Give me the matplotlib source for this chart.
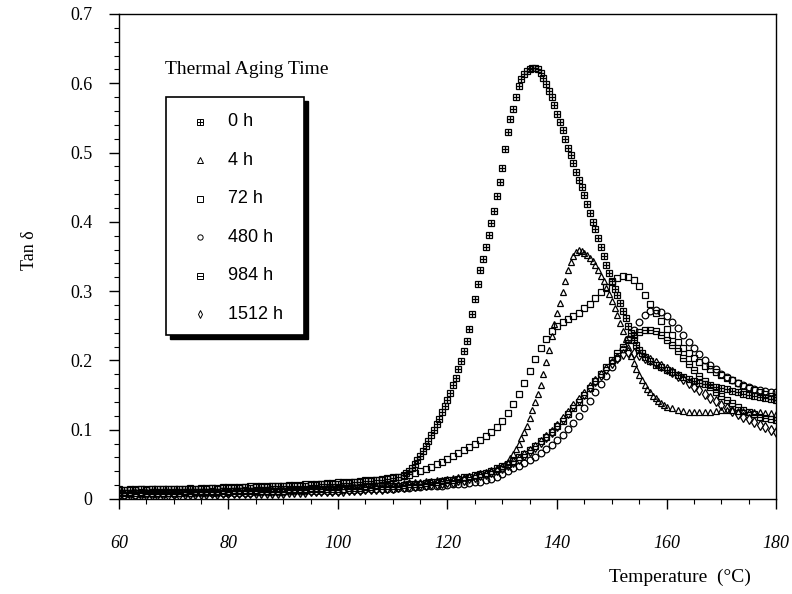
import numpy as np
import matplotlib
matplotlib.use('Agg')
import matplotlib.pyplot as plt
from matplotlib.patches import Rectangle

### Data (tan delta vs temperature)

# 0 h : finer 0.5 C steps on the steep peak
t_0h = np.r_[np.arange(60, 112), np.arange(112, 156.5, 0.5), np.arange(157, 181)]
tan_0h = [
    0.013, 0.013, 0.013, 0.013, 0.014, 0.013, 0.014, 0.014, 0.014, 0.014,
    0.014, 0.015, 0.014, 0.015, 0.015, 0.015, 0.015, 0.016, 0.015, 0.016,
    0.016, 0.016, 0.016, 0.017, 0.016, 0.017, 0.017, 0.017, 0.018, 0.018,
    0.018, 0.018, 0.019, 0.019, 0.019, 0.020, 0.020, 0.021, 0.021, 0.022,
    0.022, 0.023, 0.023, 0.024, 0.025, 0.026, 0.026, 0.027, 0.028, 0.029,
    0.030, 0.032,
    # 112 .. 156 step 0.5
    0.035, 0.038, 0.041, 0.045, 0.050, 0.056, 0.062, 0.069, 0.076, 0.084,
    0.092, 0.100, 0.108, 0.116, 0.125, 0.134, 0.143, 0.153, 0.164, 0.175,
    0.187, 0.199, 0.213, 0.228, 0.245, 0.267, 0.289, 0.310, 0.330, 0.347,
    0.364, 0.381, 0.398, 0.416, 0.437, 0.457, 0.478, 0.505, 0.530, 0.548,
    0.563, 0.580, 0.596, 0.606, 0.613, 0.617, 0.620, 0.622, 0.622, 0.620,
    0.615, 0.608, 0.599, 0.589, 0.580, 0.568, 0.556, 0.544, 0.533, 0.520,
    0.507, 0.496, 0.485, 0.472, 0.461, 0.450, 0.438, 0.426, 0.413, 0.400,
    0.389, 0.377, 0.364, 0.350, 0.338, 0.326, 0.314, 0.303, 0.294, 0.283,
    0.272, 0.261, 0.250, 0.240, 0.230, 0.222, 0.215, 0.210, 0.205,
    # 157 .. 180
    0.199, 0.194, 0.190, 0.186, 0.183, 0.179, 0.176, 0.173, 0.170, 0.168,
    0.166, 0.164, 0.162, 0.160, 0.158, 0.156, 0.154, 0.152, 0.150, 0.149,
    0.147, 0.146, 0.144, 0.143,
]

# 4 h : 0.5 C steps between 130 and 160
t_4h = np.r_[np.arange(60, 130), np.arange(130, 160.5, 0.5), np.arange(161, 181)]
tan_4h = [
    0.010, 0.010, 0.010, 0.011, 0.010, 0.011, 0.011, 0.011, 0.011, 0.011,
    0.011, 0.011, 0.012, 0.011, 0.012, 0.012, 0.012, 0.012, 0.012, 0.013,
    0.012, 0.013, 0.013, 0.013, 0.013, 0.013, 0.014, 0.014, 0.014, 0.014,
    0.014, 0.015, 0.015, 0.015, 0.015, 0.016, 0.016, 0.016, 0.017, 0.017,
    0.017, 0.018, 0.018, 0.018, 0.019, 0.019, 0.020, 0.020, 0.021, 0.021,
    0.022, 0.022, 0.023, 0.024, 0.024, 0.025, 0.026, 0.026, 0.027, 0.028,
    0.029, 0.030, 0.031, 0.032, 0.033, 0.035, 0.036, 0.038, 0.040, 0.043,
    # 130 .. 160 step 0.5
    0.047, 0.050, 0.054, 0.059, 0.065, 0.072, 0.080, 0.088, 0.096, 0.106,
    0.117, 0.128, 0.140, 0.152, 0.165, 0.180, 0.197, 0.215, 0.235, 0.252,
    0.268, 0.283, 0.298, 0.314, 0.330, 0.342, 0.351, 0.356, 0.359, 0.358,
    0.355, 0.352, 0.348, 0.343, 0.337, 0.330, 0.322, 0.314, 0.305, 0.296,
    0.286, 0.276, 0.265, 0.254, 0.243, 0.231, 0.219, 0.207, 0.196, 0.187,
    0.179, 0.172, 0.165, 0.159, 0.154, 0.149, 0.145, 0.141, 0.138, 0.135,
    0.133,
    # 161 .. 180
    0.131, 0.129, 0.127, 0.126, 0.125, 0.125, 0.125, 0.126, 0.127, 0.128,
    0.128, 0.128, 0.127, 0.127, 0.126, 0.125, 0.125, 0.124, 0.124, 0.123,
]

# the aged samples, 1 C steps from 60 to 180
t_aged = np.arange(60, 181)
tan_72h = [
    0.014, 0.013, 0.014, 0.014, 0.014, 0.014, 0.015, 0.014, 0.015, 0.015,
    0.015, 0.015, 0.015, 0.016, 0.015, 0.016, 0.016, 0.016, 0.016, 0.017,
    0.017, 0.017, 0.017, 0.017, 0.018, 0.018, 0.018, 0.018, 0.019, 0.019,
    0.019, 0.020, 0.020, 0.020, 0.021, 0.021, 0.022, 0.022, 0.023, 0.023,
    0.024, 0.024, 0.025, 0.025, 0.026, 0.027, 0.027, 0.028, 0.029, 0.030,
    0.031, 0.032, 0.033, 0.035, 0.037, 0.040, 0.043, 0.046, 0.050, 0.054,
    0.058, 0.062, 0.066, 0.070, 0.075, 0.080, 0.085, 0.091, 0.097, 0.104,
    0.113, 0.124, 0.137, 0.152, 0.168, 0.185, 0.202, 0.218, 0.231, 0.242,
    0.249, 0.255, 0.260, 0.264, 0.269, 0.275, 0.282, 0.290, 0.298, 0.306,
    0.313, 0.319, 0.322, 0.321, 0.316, 0.307, 0.295, 0.282, 0.269, 0.257,
    0.246, 0.236, 0.227, 0.218, 0.210, 0.203, 0.197, 0.192, 0.187, 0.183,
    0.179, 0.175, 0.171, 0.167, 0.163, 0.160, 0.157, 0.154, 0.151, 0.149,
    0.147,
]
tan_480h = [
    0.006, 0.006, 0.007, 0.006, 0.007, 0.007, 0.007, 0.007, 0.007, 0.008,
    0.007, 0.008, 0.008, 0.008, 0.008, 0.008, 0.008, 0.009, 0.008, 0.009,
    0.009, 0.009, 0.009, 0.009, 0.009, 0.010, 0.010, 0.010, 0.010, 0.010,
    0.010, 0.011, 0.011, 0.011, 0.011, 0.011, 0.012, 0.012, 0.012, 0.012,
    0.012, 0.013, 0.013, 0.013, 0.013, 0.014, 0.014, 0.014, 0.015, 0.015,
    0.015, 0.016, 0.016, 0.016, 0.017, 0.017, 0.018, 0.018, 0.019, 0.019,
    0.020, 0.021, 0.022, 0.022, 0.023, 0.024, 0.025, 0.027, 0.029, 0.032,
    0.036, 0.040, 0.044, 0.048, 0.052, 0.056, 0.061, 0.066, 0.072, 0.078,
    0.085, 0.093, 0.101, 0.110, 0.120, 0.131, 0.142, 0.154, 0.166, 0.178,
    0.190, 0.203, 0.217, 0.231, 0.244, 0.256, 0.266, 0.272, 0.273, 0.270,
    0.264, 0.256, 0.247, 0.237, 0.227, 0.218, 0.209, 0.201, 0.194, 0.187,
    0.181, 0.176, 0.171, 0.167, 0.164, 0.161, 0.159, 0.157, 0.156, 0.155,
    0.154,
]
tan_984h = [
    0.008, 0.008, 0.008, 0.008, 0.009, 0.008, 0.009, 0.009, 0.009, 0.009,
    0.009, 0.009, 0.010, 0.009, 0.010, 0.010, 0.010, 0.010, 0.010, 0.011,
    0.010, 0.011, 0.011, 0.011, 0.011, 0.011, 0.012, 0.012, 0.012, 0.012,
    0.012, 0.013, 0.013, 0.013, 0.013, 0.014, 0.014, 0.014, 0.014, 0.015,
    0.015, 0.015, 0.016, 0.016, 0.016, 0.017, 0.017, 0.018, 0.018, 0.018,
    0.019, 0.019, 0.020, 0.021, 0.021, 0.022, 0.023, 0.024, 0.025, 0.026,
    0.027, 0.028, 0.029, 0.031, 0.032, 0.034, 0.036, 0.038, 0.041, 0.044,
    0.047, 0.051, 0.055, 0.060, 0.065, 0.071, 0.077, 0.083, 0.090, 0.097,
    0.105, 0.113, 0.122, 0.131, 0.140, 0.150, 0.160, 0.170, 0.180, 0.190,
    0.200, 0.210, 0.220, 0.229, 0.236, 0.241, 0.244, 0.244, 0.242, 0.237,
    0.230, 0.222, 0.213, 0.204, 0.195, 0.186, 0.178, 0.170, 0.162, 0.155,
    0.149, 0.143, 0.138, 0.133, 0.129, 0.125, 0.122, 0.119, 0.117, 0.115,
    0.114,
]
tan_1512h = [
    0.005, 0.005, 0.006, 0.005, 0.006, 0.006, 0.006, 0.006, 0.006, 0.006,
    0.007, 0.006, 0.007, 0.007, 0.007, 0.007, 0.007, 0.008, 0.007, 0.008,
    0.008, 0.008, 0.008, 0.008, 0.008, 0.009, 0.009, 0.009, 0.009, 0.009,
    0.009, 0.010, 0.010, 0.010, 0.010, 0.011, 0.011, 0.011, 0.011, 0.012,
    0.012, 0.012, 0.013, 0.013, 0.013, 0.014, 0.014, 0.015, 0.015, 0.016,
    0.016, 0.017, 0.017, 0.018, 0.019, 0.020, 0.020, 0.021, 0.022, 0.023,
    0.024, 0.025, 0.027, 0.028, 0.030, 0.032, 0.034, 0.036, 0.039, 0.042,
    0.045, 0.049, 0.053, 0.058, 0.063, 0.069, 0.075, 0.082, 0.089, 0.097,
    0.106, 0.115, 0.124, 0.134, 0.143, 0.152, 0.161, 0.170, 0.179, 0.188,
    0.196, 0.203, 0.209, 0.212, 0.211, 0.208, 0.204, 0.200, 0.196, 0.192,
    0.188, 0.183, 0.178, 0.173, 0.168, 0.162, 0.157, 0.151, 0.146, 0.141,
    0.136, 0.131, 0.127, 0.123, 0.119, 0.115, 0.111, 0.107, 0.104, 0.100,
    0.097,
]

labels = ['0 h', '4 h', '72 h', '480 h', '984 h', '1512 h']
x_ticks = [60, 80, 100, 120, 140, 160, 180]
y_ticks = [0, 0.1, 0.2, 0.3, 0.4, 0.5, 0.6, 0.7]
y_ticklabels = ['0', '0.1', '0.2', '0.3', '0.4', '0.5', '0.6', '0.7']

### Figure

serif = 'Liberation Serif'
sans = 'Liberation Sans'

fig = plt.figure(figsize=(7.92, 5.94), dpi=100)
ax = fig.add_axes([0.150, 0.160, 0.830, 0.8165])

ms = 4.8
mk = dict(linestyle='none', color='black', mfc='none', mew=0.9, ms=ms)

# each series: list of marker layers (composite markers for 0 h and 984 h)
series = [
    (t_0h, tan_0h, ['s', '+']),
    (t_4h, tan_4h, ['^']),
    (t_aged, tan_72h, ['s']),
    (t_aged, tan_480h, ['o']),
    (t_aged, tan_984h, ['s', '_']),
    (t_aged, tan_1512h, ['d']),
]
for t, v, layers in series:
    for m in layers:
        ax.plot(t, v, marker=m, **mk)

ax.set_xlim(60, 180)
ax.set_ylim(0, 0.7)
ax.set_xticks(x_ticks)
ax.set_xticks(np.arange(60, 181, 5), minor=True)
ax.set_yticks(y_ticks)
ax.set_yticks(np.arange(0, 0.701, 0.02), minor=True)
ax.set_yticklabels(y_ticklabels, fontfamily=serif, fontsize=13)
ax.set_xticklabels([str(x) for x in x_ticks], fontfamily=serif,
                   fontstyle='italic', fontsize=13)
ax.tick_params(which='major', direction='out', length=7, width=1, color='black')
ax.tick_params(which='minor', direction='out', length=3.5, width=0.8)
ax.tick_params(axis='x', which='major', pad=19)
ax.tick_params(axis='y', which='major', pad=12)
for s in ax.spines.values():
    s.set_linewidth(1.0)
    s.set_color('black')

fig.text(680 / 792, 1 - 577 / 594, 'Temperature  (°C)', fontfamily=serif,
         fontsize=14, ha='center', va='center')
fig.text(30 / 792, 1 - 250 / 594, 'Tan δ', fontfamily=serif, fontsize=13,
         rotation=90, ha='center', va='center')

### Legend drawn by hand (title outside the shadowed box)

def axx(px):
    return (px - 119) / 657

def axy(py):
    return (499 - py) / 485

ax.text(axx(165), axy(70), 'Thermal Aging Time', transform=ax.transAxes,
        fontfamily=serif, fontsize=14, ha='left', va='center')

bx0, bx1, by0, by1 = axx(166), axx(304), axy(335), axy(97)
ax.add_patch(Rectangle((bx0 + 4 / 657, by0 - 4 / 485), bx1 - bx0, by1 - by0,
                       transform=ax.transAxes, facecolor='black',
                       edgecolor='black', zorder=5))
ax.add_patch(Rectangle((bx0, by0), bx1 - bx0, by1 - by0,
                       transform=ax.transAxes, facecolor='white',
                       edgecolor='black', linewidth=1.2, zorder=6))

row_py = [122, 160.5, 199, 237.5, 276, 314.5]
for (t, v, layers), lab, py in zip(series, labels, row_py):
    for m in layers:
        ax.plot([axx(200)], [axy(py)], marker=m, transform=ax.transAxes,
                clip_on=False, zorder=7, linestyle='none', color='black',
                mfc='none', mew=0.7, ms=3.8)
    ax.text(axx(228), axy(py), lab, transform=ax.transAxes, fontfamily=sans,
            fontsize=13, ha='left', va='center', zorder=7)

fig.savefig('out.png', dpi=100)
